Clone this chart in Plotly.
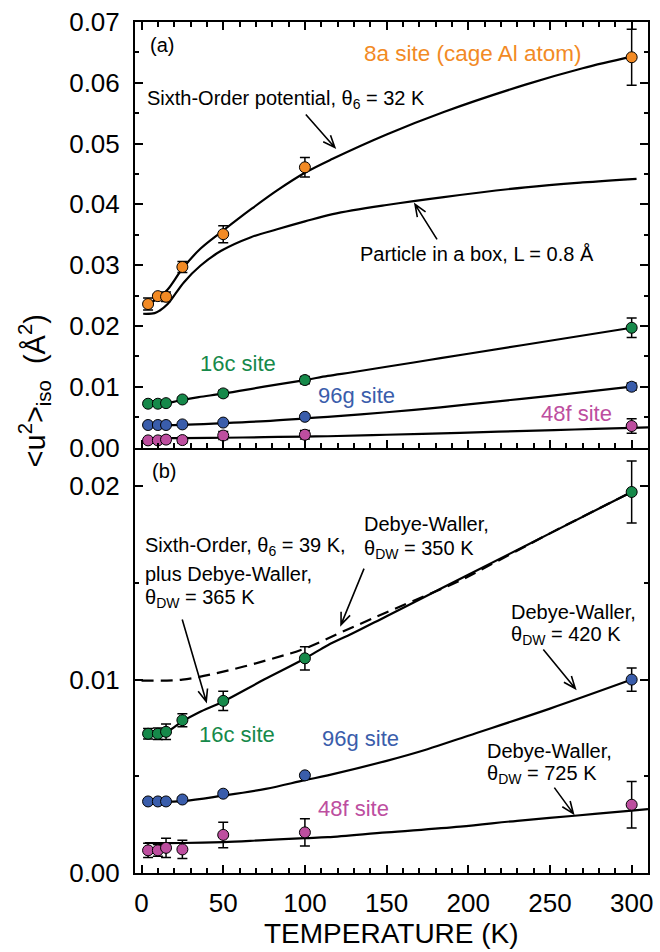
import math
import plotly.graph_objects as go

# ---------------- data ----------------
T = [4, 10, 15, 25, 50, 100, 300]

u8a = [0.0236, 0.0249, 0.0248, 0.0297, 0.0351, 0.0461, 0.0642]
u8a_err = [0.0010, 0.0004, 0.0008, 0.0009, 0.0014, 0.0016, 0.0046]

u16c = [0.0072, 0.0072, 0.0073, 0.0079, 0.0089, 0.0111, 0.0197]
u16c_err = [0.00027, 0.0003, 0.0004, 0.00034, 0.0005, 0.0006, 0.0016]

u96g = [0.0037, 0.0037, 0.0037, 0.0038, 0.0041, 0.00505, 0.0100]
u96g_err = [0.0001, 0.0001, 0.0001, 0.0001, 0.0001, 0.0001, 0.0006]

u48f = [0.00117, 0.00117, 0.0013, 0.00122, 0.00197, 0.0021, 0.00353]
u48f_err = [0.00037, 0.0003, 0.0005, 0.00047, 0.00066, 0.0007, 0.0012]

# model curves
fitT_6th = [1, 4, 10, 16, 25, 36, 50, 67, 83, 100, 117, 150, 185, 235, 270, 300]
fit_6th = [0.0235, 0.0237, 0.0245, 0.0260, 0.0294, 0.0327, 0.0357, 0.0392, 0.0423,
           0.0452, 0.0475, 0.0515, 0.0552, 0.0597, 0.0624, 0.0643]

fitT_pib = [1, 8, 11, 16, 26, 36, 49, 67, 83, 100, 117, 150, 185, 235, 270, 303]
fit_pib = [0.0220, 0.0221, 0.0225, 0.0236, 0.0272, 0.0299, 0.0324, 0.0346, 0.0359,
           0.0372, 0.0384, 0.0399, 0.0412, 0.0428, 0.0436, 0.0442]

fitT_16c = [2, 10, 16, 25, 35, 50, 75, 100, 114, 129, 150, 175, 200, 250, 300]
fit_16c = [0.00722, 0.00726, 0.00733, 0.00784, 0.0083, 0.00887, 0.0100, 0.01109,
           0.01178, 0.01238, 0.01328, 0.01435, 0.01542, 0.01756, 0.0197]

fitT_dw350 = [0, 25, 50, 77, 100, 125, 155, 195, 215, 250, 300]
fit_dw350 = [0.00995, 0.0100, 0.01041, 0.01101, 0.01161, 0.01255, 0.01366, 0.01512,
             0.0160, 0.01756, 0.0197]

fitT_96g = [2, 25, 50, 76, 100, 114, 150, 175, 200, 250, 300]
fit_96g = [0.0037, 0.00372, 0.0040, 0.00435, 0.0048, 0.00505, 0.0058, 0.0064, 0.0071,
           0.0085, 0.0100]

fitT_48f = [2, 25, 50, 75, 100, 114, 150, 195, 230, 265, 300, 310]
fit_48f = [0.00155, 0.00155, 0.0016, 0.0017, 0.0018, 0.00185, 0.0021, 0.0024, 0.0027,
           0.00296, 0.00322, 0.0033]

ORANGE = "#F28A24"
GREEN = "#16894A"
BLUE = "#3A5DAB"
MAGENTA = "#BD4E9F"
FONT = "Liberation Sans, Arial, Helvetica, sans-serif"

fig = go.Figure()

def curve(x, y, yaxis, dash="solid"):
    fig.add_trace(go.Scatter(x=x, y=y, mode="lines", yaxis=yaxis, xaxis="x" if yaxis == "y" else "x2",
                             line=dict(color="black", width=2.2, shape="spline", dash=dash),
                             showlegend=False, hoverinfo="skip"))

def points(y, err, color, yaxis):
    fig.add_trace(go.Scatter(x=T, y=y, mode="markers", yaxis=yaxis, xaxis="x" if yaxis == "y" else "x2",
                             marker=dict(size=11, color=color, line=dict(color="black", width=1)),
                             error_y=dict(type="data", array=err, color="black", thickness=1.5, width=5),
                             showlegend=False))

# top panel (a)
curve(fitT_6th, fit_6th, "y")
curve(fitT_pib, fit_pib, "y")
curve(fitT_16c, fit_16c, "y")
curve(fitT_96g, fit_96g, "y")
curve(fitT_48f, fit_48f, "y")
points(u8a, u8a_err, ORANGE, "y")
points(u16c, u16c_err, GREEN, "y")
points(u96g, u96g_err, BLUE, "y")
points(u48f, u48f_err, MAGENTA, "y")

# bottom panel (b)
curve(fitT_dw350, fit_dw350, "y2", dash="12px,7px")
curve(fitT_16c, fit_16c, "y2")
curve(fitT_96g, fit_96g, "y2")
curve(fitT_48f, fit_48f, "y2")
points(u16c, u16c_err, GREEN, "y2")
points(u96g, u96g_err, BLUE, "y2")
points(u48f, u48f_err, MAGENTA, "y2")

annotations = []
shapes = []

def label(x, y, yref, text, size=20, color="black", xanchor="center"):
    annotations.append(dict(x=x, y=y, xref="x" if yref == "y" else "x2", yref=yref, text=text,
                            showarrow=False, xanchor=xanchor, yanchor="middle",
                            font=dict(family=FONT, size=size, color=color)))

def arrow(x, y, yref, ax, ay, L=13, ang=22):
    """Open-V arrow: head at data point (x, y); tail offset (ax, ay) in screen pixels (down = +)."""
    xr = "x" if yref == "y" else "x2"
    d = math.hypot(ax, ay)
    ux, uy = ax / d, ay / d
    barbs = []
    for s in (1, -1):
        a = math.radians(ang) * s
        bx = (ux * math.cos(a) - uy * math.sin(a)) * L
        by = (ux * math.sin(a) + uy * math.cos(a)) * L
        barbs.append((bx, by))
    # pixel-mode shape coordinates are positive upward
    path = (f"M {ax:.2f},{-ay:.2f} L 0,0 "
            f"M {barbs[0][0]:.2f},{-barbs[0][1]:.2f} L 0,0 L {barbs[1][0]:.2f},{-barbs[1][1]:.2f}")
    shapes.append(dict(type="path", xref=xr, yref=yref, xsizemode="pixel", ysizemode="pixel",
                       xanchor=x, yanchor=y, path=path, line=dict(color="black", width=1.6)))

# panel (a) texts
label(12.3, 0.0662, "y", "(a)")
label(202.8, 0.0649, "y", "8a site (cage Al atom)", size=22.5, color=ORANGE)
label(2.0, 0.0572, "y", "Sixth-Order potential, θ<sub>6</sub> = 32 K", xanchor="left")
label(205.5, 0.0318, "y", "Particle in a box, L = 0.8 Å")
label(58.9, 0.0138, "y", "16c site", size=22, color=GREEN)
label(131.6, 0.0085, "y", "96g site", size=22, color=BLUE)
label(266.1, 0.0056, "y", "48f site", size=22, color=MAGENTA)
arrow(118.3, 0.04935, "y", -29, -33)
arrow(167.4, 0.0400, "y", 22, 35)

# panel (b) texts
label(13.5, 0.0208, "y2", "(b)")
label(1.0, 0.01686, "y2", "Sixth-Order, θ<sub>6</sub> = 39 K,", xanchor="left")
label(1.0, 0.01546, "y2", "plus Debye-Waller,", xanchor="left")
label(1.0, 0.01418, "y2", "θ<sub>DW</sub> = 365 K", xanchor="left")
label(135.2, 0.01803, "y2", "Debye-Waller,", xanchor="left")
label(135.2, 0.01674, "y2", "θ<sub>DW</sub> = 350 K", xanchor="left")
label(225.1, 0.01349, "y2", "Debye-Waller,", xanchor="left")
label(225.1, 0.0123, "y2", "θ<sub>DW</sub> = 420 K", xanchor="left")
label(210.5, 0.0063, "y2", "Debye-Waller,", xanchor="left")
label(210.5, 0.00507, "y2", "θ<sub>DW</sub> = 725 K", xanchor="left")
label(58.5, 0.00716, "y2", "16c site", size=22, color=GREEN)
label(133.9, 0.00695, "y2", "96g site", size=22, color=BLUE)
label(129.7, 0.00331, "y2", "48f site", size=22, color=MAGENTA)
arrow(39.6, 0.00887, "y2", -24, -82)
arrow(122.1, 0.01284, "y2", 23, -56)
arrow(265.5, 0.00954, "y2", -32, -39)
arrow(264.3, 0.00307, "y2", -19, -26)

# axis titles
annotations.append(dict(x=0.5, y=-0.0713, xref="paper", yref="paper", text="TEMPERATURE (K)",
                        showarrow=False, xanchor="center", yanchor="middle",
                        font=dict(family=FONT, size=28, color="black")))
annotations.append(dict(x=-0.195, y=0.567, xref="paper", yref="paper", textangle=-90,
                        text="&lt;u<sup>2</sup>&gt;<sub>iso</sub>  (Å<sup>2</sup>)",
                        showarrow=False, xanchor="center", yanchor="middle",
                        font=dict(family=FONT, size=29, color="black")))

common_axis = dict(showline=True, linewidth=2, linecolor="black", showgrid=False, zeroline=False,
                   ticks="inside", ticklen=8, tickwidth=1.5, tickcolor="black",
                   tickfont=dict(family=FONT, size=26, color="black"))

xminor = dict(dtick=10, tick0=0, ticks="inside", ticklen=5, tickwidth=1.5, tickcolor="black")
yminor = dict(dtick=0.005, tick0=0, ticks="inside", ticklen=4, tickwidth=1.5, tickcolor="black")

fig.update_layout(
    width=660, height=952,
    margin=dict(l=135, r=7, t=17, b=79),
    plot_bgcolor="white", paper_bgcolor="white",
    font=dict(family=FONT, color="black"),
    showlegend=False,
    xaxis=dict(domain=[0, 1], anchor="y", range=[-4, 310], tick0=0, dtick=50, showticklabels=False,
               mirror="ticks", minor=xminor, **common_axis),
    yaxis=dict(domain=[0.5, 1], anchor="x", range=[0, 0.07], tick0=0, dtick=0.01, tickformat=".2f",
               mirror="ticks", minor=yminor, ticklabelstandoff=8, **common_axis),
    xaxis2=dict(domain=[0, 1], anchor="y2", range=[-4, 310], tick0=0, dtick=50, matches="x",
                mirror=False, minor=xminor, ticklabelstandoff=6, **common_axis),
    yaxis2=dict(domain=[0, 0.5], anchor="x2", range=[0, 0.022], tick0=0, dtick=0.01, tickformat=".2f",
                mirror="ticks", minor=yminor, ticklabelstandoff=8, **common_axis),
    annotations=annotations,
    shapes=shapes,
)

fig.write_html("out.html")
